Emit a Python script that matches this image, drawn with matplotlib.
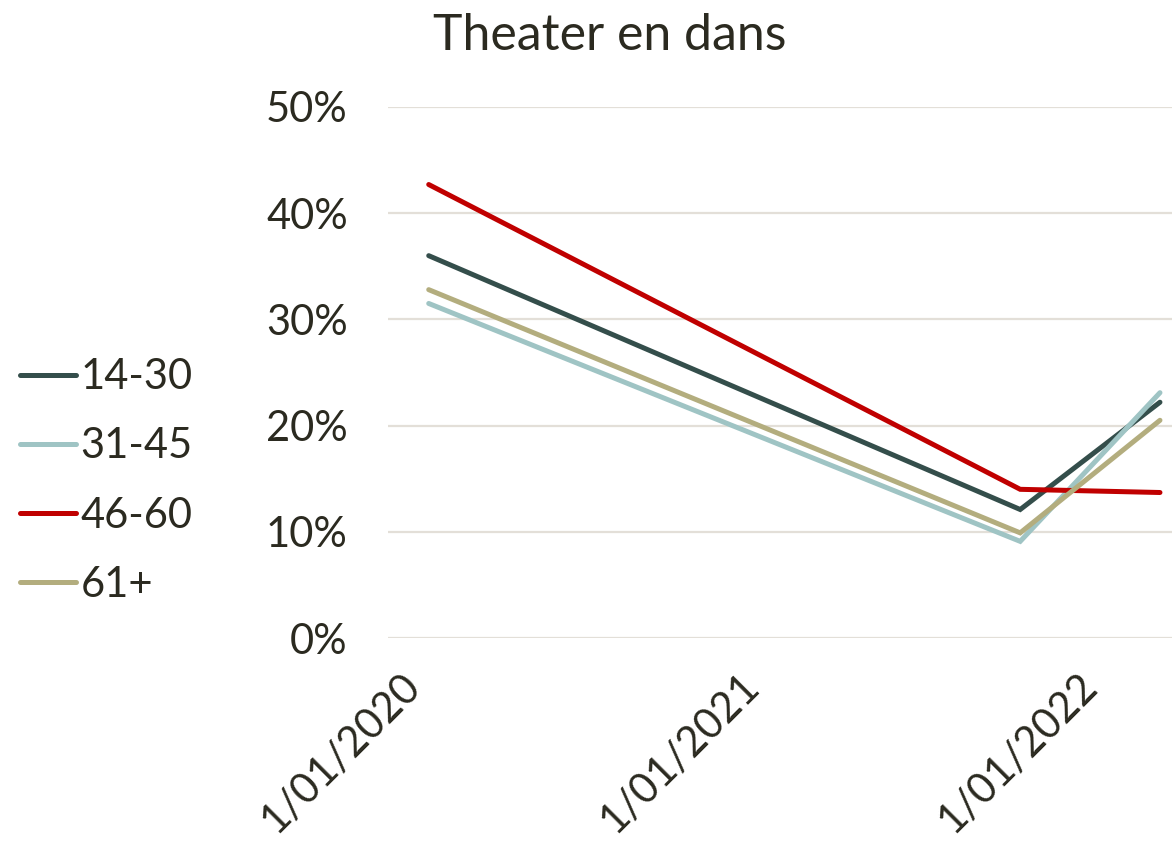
import pandas as pd
import matplotlib
matplotlib.use("Agg")
import matplotlib.pyplot as plt
from matplotlib.ticker import PercentFormatter

# --- data ---
dates = pd.to_datetime(["2020-02-01", "2021-11-01", "2022-04-01"])
groups = ["14-30", "31-45", "46-60", "61+"]
v_14_30 = [0.360, 0.121, 0.222]
v_31_45 = [0.315, 0.091, 0.231]
v_46_60 = [0.427, 0.140, 0.137]
v_61 = [0.328, 0.099, 0.205]
colors = ["#344E4B", "#9FC4C4", "#C00000", "#B3AD7E"]
tick_dates = pd.to_datetime(["2020-01-01", "2021-01-01", "2022-01-01"])
tick_labels = ["1/01/2020", "1/01/2021", "1/01/2022"]

txt = "#2B2A20"
plt.rcParams['font.family'] = ['Lato', 'DejaVu Sans']

fig = plt.figure(figsize=(11.72, 8.58), dpi=100)
ax = fig.add_axes([388 / 1172, 1 - 638 / 858, 1 - 388 / 1172, (638 - 107) / 858])

for vals, lab, c in zip([v_14_30, v_31_45, v_46_60, v_61], groups, colors):
    ax.plot(dates, vals, color=c, lw=3.6, solid_capstyle='round',
            solid_joinstyle='miter', label=lab)

ax.set_ylim(0, 0.5)
ax.set_yticks([0, 0.1, 0.2, 0.3, 0.4, 0.5])
ax.yaxis.set_major_formatter(PercentFormatter(1.0, decimals=0))
ax.set_xlim(pd.Timestamp("2019-12-19"), pd.Timestamp("2022-04-14"))
ax.set_xticks(tick_dates)
ax.set_xticklabels(tick_labels, rotation=45, ha='right', rotation_mode='anchor')

ax.grid(axis='y', color='#E3DFD8', lw=1.6)
ax.set_axisbelow(True)
for s in ax.spines.values():
    s.set_visible(False)
ax.tick_params(axis='both', length=0, colors=txt, labelsize=30)
ax.tick_params(axis='y', pad=29)
ax.tick_params(axis='x', pad=20)

fig.text(610 / 1172, 1 - 36 / 858, "Theater en dans", ha='center', va='center',
         fontsize=36, color=txt)

fig.legend(loc='center left', bbox_to_anchor=(20 / 1172, 1 - 481 / 858), frameon=False,
           fontsize=30, handlelength=1.35, handletextpad=0.1, labelspacing=0.75,
           borderaxespad=0, borderpad=0, labelcolor=txt)

fig.savefig("out.png", dpi=100)
